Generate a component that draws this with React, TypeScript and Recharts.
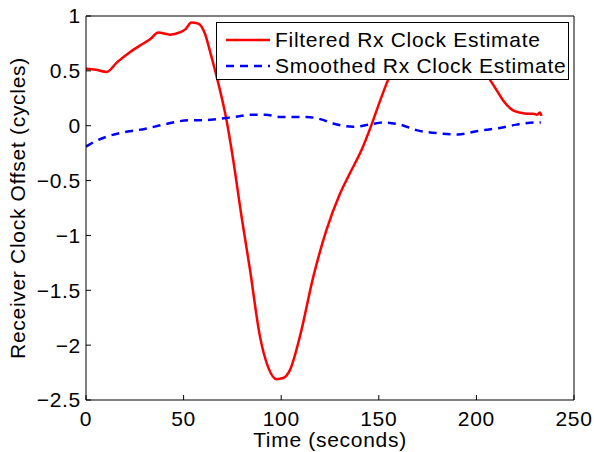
import { Line, LineChart, XAxis, YAxis } from 'recharts';

const filteredTime = [0, 5, 10.6, 16, 22.5, 28.5, 33, 37, 43, 48, 51, 54, 57.5, 60.9, 63.5, 66.9, 72, 75.4, 79.7, 84, 89.1, 93.3, 97.6, 101, 104.4, 109.6, 116.4, 123.2, 130.1, 135, 141.2, 146.3, 150.5, 154.8, 160, 168, 176, 184, 192, 200, 206.9, 210.5, 213.7, 218.8, 222, 225.7, 229, 231, 232.5, 233.3];
const filteredValues = [0.52, 0.51, 0.49, 0.58, 0.67, 0.74, 0.79, 0.85, 0.83, 0.85, 0.88, 0.94, 0.93, 0.84, 0.68, 0.45, 0.05, -0.31, -0.83, -1.31, -1.92, -2.2, -2.31, -2.3, -2.23, -1.92, -1.38, -0.95, -0.62, -0.44, -0.22, 0.01, 0.22, 0.42, 0.62, 0.75, 0.8, 0.8, 0.74, 0.6, 0.42, 0.32, 0.23, 0.14, 0.12, 0.11, 0.11, 0.1, 0.12, 0.09];

const smoothedTime = [0, 5, 10.6, 22.5, 30, 39.6, 53.3, 60, 66.9, 76, 84.8, 92, 99.3, 106, 113, 120, 126.6, 136.9, 145, 152.2, 160.8, 169.3, 181.3, 190.6, 200, 212, 220.5, 230.8, 233];
const smoothedValues = [-0.19, -0.14, -0.1, -0.05, -0.03, 0.01, 0.05, 0.05, 0.06, 0.08, 0.1, 0.1, 0.08, 0.08, 0.08, 0.06, 0.02, -0.01, 0.01, 0.03, 0.01, -0.04, -0.07, -0.08, -0.05, -0.02, 0.01, 0.03, 0.03];

const xTicks = [0, 50, 100, 150, 200, 250];
const yTicks = [-2.5, -2, -1.5, -1, -0.5, 0, 0.5, 1];

const filtered = filteredTime.map((t, i) => ({ t, v: filteredValues[i] }));
const smoothed = smoothedTime.map((t, i) => ({ t, v: smoothedValues[i] }));

const font = 'Liberation Sans, Arial, sans-serif';
const textStyle = { fill: '#000', fontSize: 21, fontFamily: font, letterSpacing: 0.7 };
const fmt = (v: number) => String(v).replace('-', '\u2212');

function LegendBox() {
  const row = (color: string, dash: string | undefined, label: string) => (
    <div style={{ display: 'flex', alignItems: 'center', height: 26 }}>
      <svg width={44} height={10} style={{ marginLeft: 9, marginRight: 5 }}>
        <line x1={0} y1={5} x2={44} y2={5} stroke={color} strokeWidth={2.5} strokeDasharray={dash} />
      </svg>
      <span>{label}</span>
    </div>
  );
  return (
    <div
      style={{
        border: '1px solid #000',
        background: '#fff',
        width: 353,
        height: 58,
        boxSizing: 'border-box',
        paddingTop: 4,
        fontFamily: font,
        fontSize: 21,
        letterSpacing: 0.7,
        color: '#000',
        whiteSpace: 'nowrap',
      }}
    >
      {row('#ff0000', undefined, 'Filtered Rx Clock Estimate')}
      {row('#0000ff', '8 6', 'Smoothed Rx Clock Estimate')}
    </div>
  );
}

export default function App() {
  return (
    <>
      <style>{'html,body{margin:0;overflow:hidden;background:#fff}'}</style>
      <LineChart width={594} height={452} margin={{ top: 15, right: 19, bottom: 0, left: 0 }}>
        <XAxis
          dataKey="t"
          type="number"
          domain={[0, 250]}
          ticks={xTicks}
          height={52}
          tickSize={-5}
          tickMargin={16}
          stroke="#000"
          tick={textStyle}
          allowDataOverflow
          label={{ value: 'Time (seconds)', position: 'insideBottom', offset: 5, ...textStyle }}
        />
        <XAxis
          xAxisId="top"
          orientation="top"
          type="number"
          domain={[0, 250]}
          ticks={xTicks}
          height={1}
          tickSize={-5}
          tick={false}
          stroke="#000"
        />
        <YAxis
          type="number"
          domain={[-2.5, 1]}
          ticks={yTicks}
          width={86}
          tickSize={-5}
          tickMargin={10}
          stroke="#000"
          tick={textStyle}
          tickFormatter={fmt}
          label={{ value: 'Receiver Clock Offset (cycles)', angle: -90, position: 'center', dx: -25, ...textStyle }}
        />
        <YAxis
          yAxisId="right"
          orientation="right"
          type="number"
          domain={[-2.5, 1]}
          ticks={yTicks}
          width={1}
          tickSize={-5}
          tick={false}
          stroke="#000"
        />
        <Line
          data={filtered}
          dataKey="v"
          type="monotone"
          stroke="#ff0000"
          strokeWidth={2.5}
          dot={false}
          isAnimationActive={false}
        />
        <Line
          data={smoothed}
          dataKey="v"
          type="monotone"
          stroke="#0000ff"
          strokeWidth={2.5}
          strokeDasharray="8 6"
          dot={false}
          isAnimationActive={false}
        />
      </LineChart>
      <div style={{ position: 'absolute', left: 216, top: 22 }}>
        <LegendBox />
      </div>
    </>
  );
}
